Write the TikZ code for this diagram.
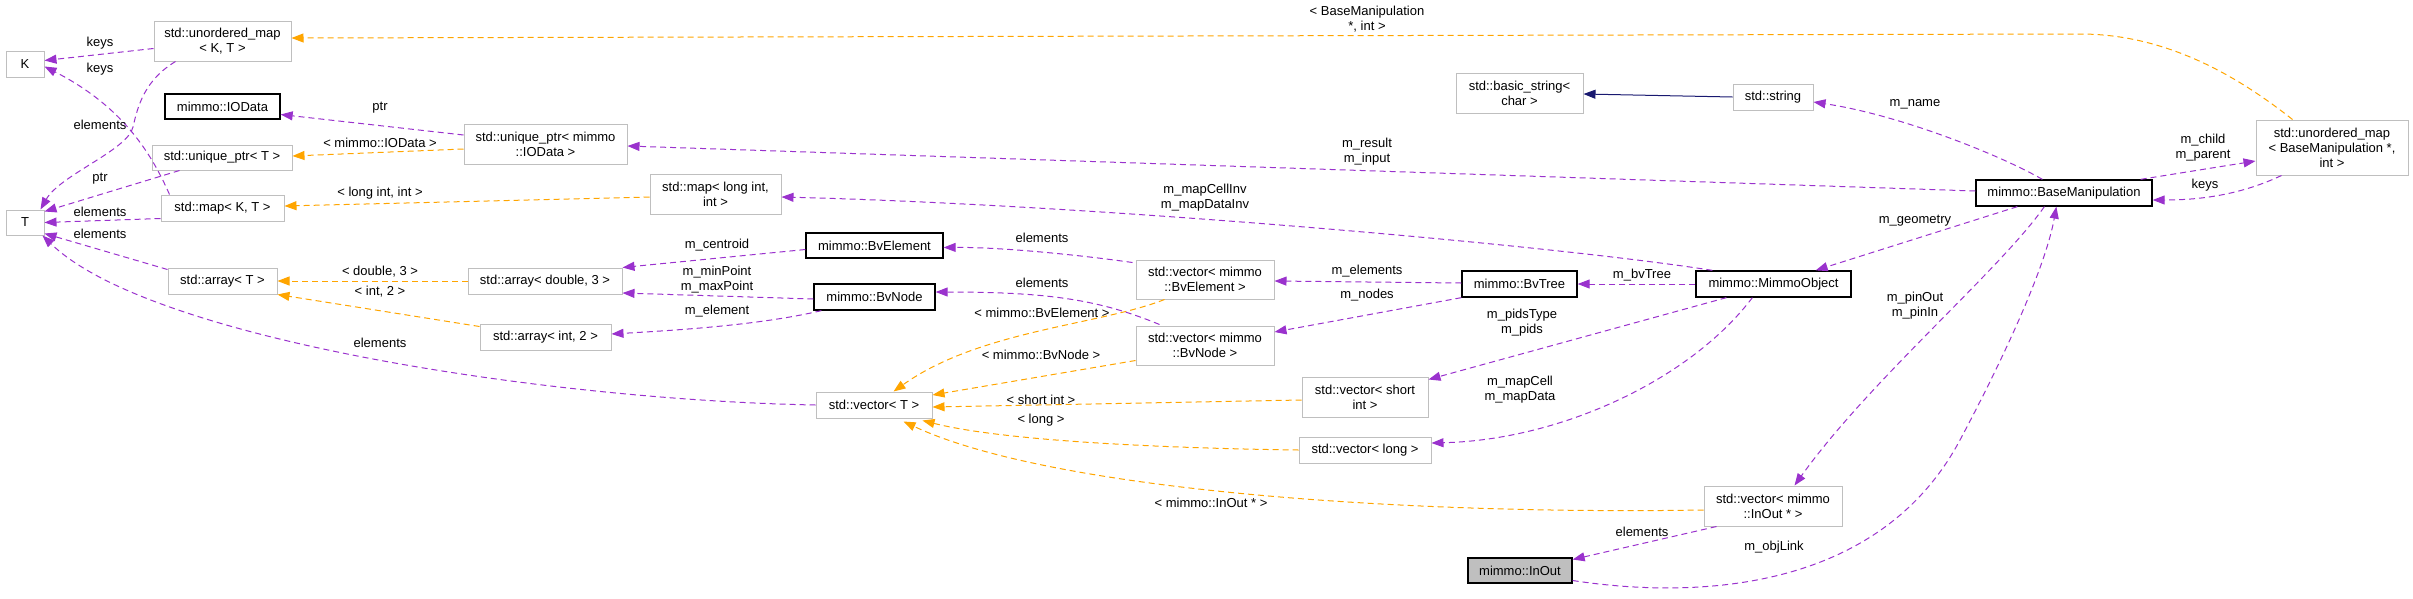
\documentclass[tikz,border=0pt]{standalone}
\usepackage{fontspec}
\setmainfont{Liberation Sans}
\usetikzlibrary{arrows.meta,calc}
\definecolor{purp}{HTML}{9A32CD}
\definecolor{orng}{HTML}{FFA500}
\definecolor{mblue}{HTML}{191970}
\definecolor{gborder}{HTML}{BFBFBF}
\tikzset{
  txt/.style={font=\fontsize{13}{15}\selectfont},
  sz/.style n args={2}{minimum width=#1pt, minimum height=#2pt},
  gbox/.style={txt, draw=gborder, line width=1pt, fill=white, inner sep=0pt, align=center},
  bbox/.style={txt, draw=black, line width=1.3pt, fill=white, inner sep=0pt, align=center},
  ibox/.style={txt, draw=black, line width=1.3pt, fill=gborder, inner sep=0pt, align=center},
  lab/.style={txt, inner sep=0pt, align=center, text=black},
  tip/.style={-{Triangle[length=12pt,width=9pt]}},
  pe/.style={draw=purp, line width=1pt, dash pattern=on 6pt off 4pt, tip},
  oe/.style={draw=orng, line width=1pt, dash pattern=on 6pt off 4pt, tip},
  be/.style={draw=mblue, line width=1pt, tip},
}
\begin{document}
\begin{tikzpicture}[x=1pt,y=-1pt]
\useasboundingbox (0,0) rectangle (2413,598);
% nodes
\node[gbox, sz={38}{26}] (K) at (25,64) {K};
\node[gbox, sz={38}{25}] (T) at (25,222.5) {T};
\node[gbox, sz={137}{40}] (UMKT) at (222.5,41) {std::unordered\_map\\< K, T >};
\node[bbox, sz={115}{25}] (IOData) at (222.5,106.5) {mimmo::IOData};
\node[gbox, sz={140}{25}] (UPT) at (222,157.5) {std::unique\_ptr< T >};
\node[gbox, sz={123}{26}] (MapKT) at (222.5,208) {std::map< K, T >};
\node[gbox, sz={109}{26}] (ArrT) at (222.5,281) {std::array< T >};
\node[gbox, sz={163}{40}] (UPIO) at (545.5,144) {std::unique\_ptr< mimmo\\::IOData >};
\node[gbox, sz={131}{40}] (MapLI) at (715.5,194) {std::map< long int,\\int >};
\node[gbox, sz={154}{26}] (ArrD3) at (545,281) {std::array< double, 3 >};
\node[gbox, sz={131}{26}] (ArrI2) at (545.5,337) {std::array< int, 2 >};
\node[bbox, sz={137}{25}] (BvElement) at (874.5,245.5) {mimmo::BvElement};
\node[bbox, sz={121}{26}] (BvNode) at (874.5,297) {mimmo::BvNode};
\node[gbox, sz={116}{26}] (VecT) at (874,405) {std::vector< T >};
\node[gbox, sz={138}{39}] (VecBvE) at (1205,279.5) {std::vector< mimmo\\::BvElement >};
\node[gbox, sz={138}{39}] (VecBvN) at (1205,345.5) {std::vector< mimmo\\::BvNode >};
\node[bbox, sz={115}{26}] (BvTree) at (1519.5,284) {mimmo::BvTree};
\node[gbox, sz={126}{40}] (VecShort) at (1365,397) {std::vector< short\\int >};
\node[gbox, sz={132}{26}] (VecLong) at (1365,450) {std::vector< long >};
\node[gbox, sz={127}{40}] (BasicStr) at (1519.5,93) {std::basic\_string<\\char >};
\node[gbox, sz={80}{26}] (Str) at (1773,97) {std::string};
\node[bbox, sz={176}{26}] (BaseManip) at (2064,193) {mimmo::BaseManipulation};
\node[gbox, sz={152}{55}] (UMBM) at (2332,147.5) {std::unordered\_map\\< BaseManipulation *,\\int >};
\node[bbox, sz={155}{26}] (Mimmo) at (1773.5,284) {mimmo::MimmoObject};
\node[gbox, sz={138}{40}] (VecInOut) at (1773,506) {std::vector< mimmo\\::InOut * >};
\node[ibox, sz={104}{25}] (InOut) at (1520,570.5) {mimmo::InOut};

% left cluster
\draw[pe] ($(UMKT.north west)+(0,28)$) -- ($(K.north east)+(0,10)$) node[lab] at (100,43) {keys};
\draw[pe] ($(MapKT.north west)+(9,0)$) .. controls (150,150) and (120,105) .. ($(K.north east)+(0,16)$) node[lab] at (100,69) {keys};
\draw[pe] ($(UMKT.south west)+(22,0)$) .. controls (145,80) and (138,105) .. (133,127) .. controls (128,150) and (60,175) .. ($(T.north east)+(-4,0)$) node[lab] at (100,125) {elements};
\draw[pe] ($(UPT.south west)+(28,0)$) -- ($(T.north east)+(0,2)$) node[lab] at (100,179) {ptr};
\draw[pe] ($(MapKT.south west)+(0,-3)$) -- (T.east) node[lab] at (100,212) {elements};
\draw[pe] ($(ArrT.north west)+(0,2)$) -- ($(T.south east)+(0,-2)$) node[lab] at (100,234) {elements};
\draw[pe] (VecT.west) .. controls (550,400) and (150,340) .. ($(T.south east)+(-2,0)$) node[lab] at (380,343) {elements};

% template instances (orange)
\draw[oe] ($(UMBM.north west)+(37,0)$) .. controls (2230,70) and (2160,34) .. (2080,34) -- ($(UMKT.east)+(0,-3)$) node[lab] at (1367,19) {< BaseManipulation\\*, int >};
\draw[oe] ($(UPIO.west)+(0,5)$) -- ($(UPT.east)+(0,-1.5)$) node[lab] at (380,143) {< mimmo::IOData >};
\draw[oe] ($(MapLI.west)+(0,3)$) -- ($(MapKT.east)+(0,-2)$) node[lab] at (380,193) {< long int, int >};
\draw[oe] (ArrD3.west) -- (ArrT.east) node[lab] at (380,272) {< double, 3 >};
\draw[oe] ($(ArrI2.north west)+(0,3)$) -- (ArrT.south east) node[lab] at (380,292) {< int, 2 >};
\draw[oe] ($(VecBvE.south west)+(29,0)$) .. controls (1100,325) and (980,330) .. ($(VecT.north east)+(-39,0)$) node[lab] at (1042,313) {< mimmo::BvElement >};
\draw[oe] ($(VecBvN.west)+(0,15)$) -- ($(VecT.east)+(0,-10)$) node[lab] at (1041,355) {< mimmo::BvNode >};
\draw[oe] ($(VecShort.west)+(0,3)$) -- ($(VecT.east)+(0,2)$) node[lab] at (1041,400) {< short int >};
\draw[oe] (VecLong.west) .. controls (1150,448) and (1000,440) .. ($(VecT.south east)+(-10,2)$) node[lab] at (1041,420) {< long >};
\draw[oe] ($(VecInOut.west)+(0,4)$) .. controls (1400,515) and (1050,490) .. ($(VecT.south east)+(-29,3)$) node[lab] at (1211,503) {< mimmo::InOut * >};

% members (purple)
\draw[pe] ($(UPIO.west)+(0,-9)$) -- ($(IOData.east)+(0,8)$) node[lab] at (380,108) {ptr};
\draw[pe] ($(BaseManip.west)+(0,-2)$) -- ($(UPIO.east)+(0,2)$) node[lab] at (1367,152) {m\_result\\m\_input};
\draw[pe] ($(Mimmo.north west)+(17,0)$) .. controls (1550,245) and (1100,205) .. ($(MapLI.east)+(0,3)$) node[lab] at (1205,198) {m\_mapCellInv\\m\_mapDataInv};
\draw[pe] ($(BvElement.west)+(0,4)$) -- (ArrD3.north east) node[lab] at (717,245) {m\_centroid};
\draw[pe] ($(BvNode.west)+(0,2)$) -- ($(ArrD3.east)+(0,12)$) node[lab] at (717,280) {m\_minPoint\\m\_maxPoint};
\draw[pe] ($(BvNode.south west)+(8,0)$) .. controls (760,325) and (680,330) .. ($(ArrI2.east)+(0,-3)$) node[lab] at (717,311) {m\_element};
\draw[pe] ($(VecBvE.north west)+(-3,3)$) .. controls (1080,255) and (1000,247) .. ($(BvElement.east)+(0,2)$) node[lab] at (1042,238) {elements};
\draw[pe] ($(VecBvN.north west)+(24,-1)$) .. controls (1100,300) and (1050,292) .. ($(BvNode.east)+(0,-5)$) node[lab] at (1042,283) {elements};
\draw[pe] ($(BvTree.west)+(0,-1)$) -- ($(VecBvE.east)+(0,1.5)$) node[lab] at (1367,271) {m\_elements};
\draw[pe] (BvTree.south west) -- ($(VecBvN.east)+(0,-13.5)$) node[lab] at (1367,295) {m\_nodes};
\draw[pe] (Mimmo.west) -- (BvTree.east) node[lab] at (1642,275) {m\_bvTree};
\draw[pe] ($(Mimmo.south west)+(31,0)$) -- ($(VecShort.north east)+(0,3)$) node[lab] at (1522,323) {m\_pidsType\\m\_pids};
\draw[pe] ($(Mimmo.south west)+(57,0)$) .. controls (1690,380) and (1560,440) .. ($(VecLong.east)+(0,-7)$) node[lab] at (1520,390) {m\_mapCell\\m\_mapData};
\draw[pe] ($(BaseManip.north west)+(67,0)$) .. controls (2000,155) and (1900,115) .. ($(Str.east)+(0,5)$) node[lab] at (1915,104) {m\_name};
\draw[be] (Str.west) -- ($(BasicStr.east)+(0,1)$);
\draw[pe] ($(BaseManip.south west)+(42,0)$) -- ($(Mimmo.north east)+(-36,0)$) node[lab] at (1915,221) {m\_geometry};
\draw[pe] ($(BaseManip.north east)+(-12,0)$) -- ($(UMBM.west)+(0,13.5)$) node[lab] at (2203,148) {m\_child\\m\_parent};
\draw[pe] ($(UMBM.south west)+(26,0)$) .. controls (2240,195) and (2200,200) .. ($(BaseManip.east)+(0,7)$) node[lab] at (2205,185) {keys};
\draw[pe] ($(BaseManip.south west)+(69,0)$) .. controls (2000,270) and (1870,380) .. ($(VecInOut.north west)+(91,0)$) node[lab] at (1915,306) {m\_pinOut\\m\_pinIn};
\draw[pe] ($(InOut.east)+(0,10)$) .. controls (1700,600) and (1880,590) .. (1960,440) .. controls (2000,365) and (2045,270) .. ($(BaseManip.south west)+(81,0)$) node[lab] at (1774,547) {m\_objLink};
\draw[pe] ($(VecInOut.south west)+(13,0)$) -- ($(InOut.east)+(0,-11)$) node[lab] at (1642,532) {elements};
\end{tikzpicture}
\end{document}
